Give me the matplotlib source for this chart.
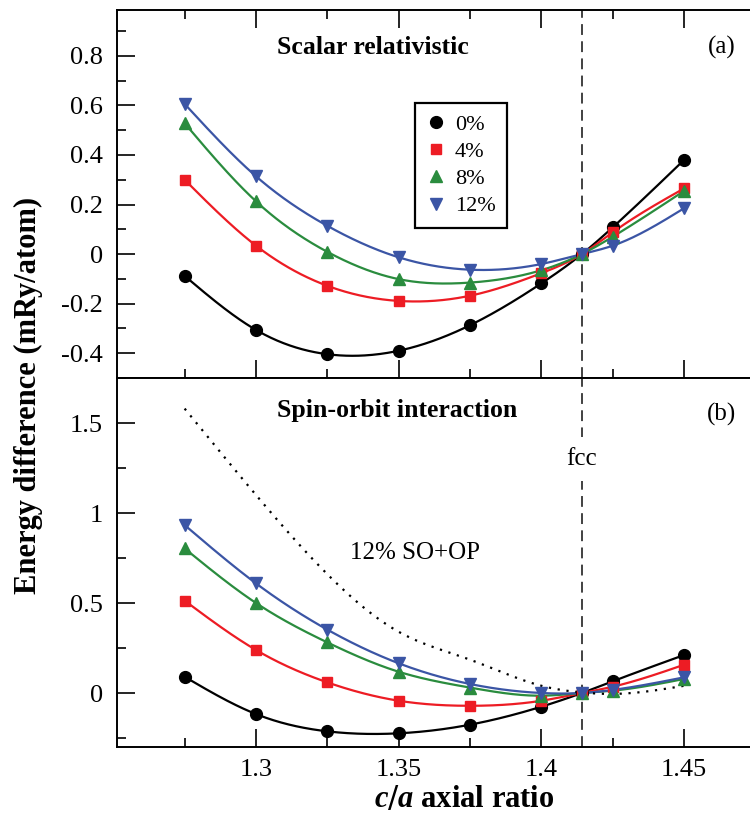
import numpy as np
import matplotlib
matplotlib.use('Agg')
import matplotlib.pyplot as plt
from matplotlib.ticker import MultipleLocator, FormatStrFormatter

plt.rcParams['font.family'] = ['Liberation Serif', 'DejaVu Serif']
plt.rcParams['mathtext.fontset'] = 'custom'
plt.rcParams['mathtext.it'] = 'Liberation Serif:italic:bold'
plt.rcParams['axes.unicode_minus'] = False

# c/a values (1.4142 = fcc)
ca = [1.275, 1.3, 1.325, 1.35, 1.375, 1.4, 1.4142, 1.425, 1.45]
labels = ['0%', '4%', '8%', '12%']

# (a) scalar relativistic, mRy/atom
sr_0 = [-0.088, -0.306, -0.404, -0.390, -0.287, -0.118, 0.0, 0.108, 0.380]
sr_4 = [0.300, 0.034, -0.128, -0.189, -0.168, -0.077, 0.0, 0.088, 0.265]
sr_8 = [0.528, 0.213, 0.009, -0.101, -0.115, -0.065, 0.0, 0.070, 0.255]
sr_12 = [0.606, 0.314, 0.114, -0.013, -0.063, -0.040, 0.0, 0.034, 0.185]

# (b) spin-orbit interaction
so_0 = [0.090, -0.117, -0.213, -0.224, -0.176, -0.076, 0.0, 0.065, 0.211]
so_4 = [0.513, 0.239, 0.059, -0.043, -0.071, -0.043, 0.0, 0.035, 0.157]
so_8 = [0.803, 0.500, 0.281, 0.118, 0.030, -0.015, 0.0, 0.013, 0.078]
so_12 = [0.933, 0.609, 0.352, 0.165, 0.050, 0.000, 0.0, 0.017, 0.087]
so_op_12 = [1.58, 1.10, 0.66, 0.34, 0.185, 0.04, 0.003, -0.005, 0.04]

colors = ['black', '#ed1c24', '#2a8c3e', '#3b55a5']
markers = ['o', 's', '^', 'v']
msizes = [8.5, 7, 8.5, 8.5]


def spline(x, y, xs):
    # natural cubic spline through the points
    x = np.asarray(x, float)
    y = np.asarray(y, float)
    n = len(x)
    h = np.diff(x)
    A = np.zeros((n, n))
    b = np.zeros(n)
    A[0, 0] = 1
    A[-1, -1] = 1
    for i in range(1, n - 1):
        A[i, i - 1] = h[i - 1]
        A[i, i] = 2 * (h[i - 1] + h[i])
        A[i, i + 1] = h[i]
        b[i] = 6 * ((y[i + 1] - y[i]) / h[i] - (y[i] - y[i - 1]) / h[i - 1])
    M = np.linalg.solve(A, b)
    idx = np.clip(np.searchsorted(x, xs) - 1, 0, n - 2)
    x0, x1 = x[idx], x[idx + 1]
    hh = x1 - x0
    t0, t1 = x1 - xs, xs - x0
    return (M[idx] * t0 ** 3 / (6 * hh) + M[idx + 1] * t1 ** 3 / (6 * hh)
            + (y[idx] / hh - M[idx] * hh / 6) * t0
            + (y[idx + 1] / hh - M[idx + 1] * hh / 6) * t1)


xs = np.linspace(ca[0], ca[-1], 400)

fig = plt.figure(figsize=(7.5, 8.27), dpi=100)
ax1 = fig.add_axes([117 / 750, 1 - 378 / 827, 649 / 750, 368 / 827])
ax2 = fig.add_axes([117 / 750, 1 - 747 / 827, 649 / 750, 369 / 827])

for ax, series in ((ax1, [sr_0, sr_4, sr_8, sr_12]), (ax2, [so_0, so_4, so_8, so_12])):
    for ys, c, m, ms, lab in zip(series, colors, markers, msizes, labels):
        ax.plot(xs, spline(ca, ys, xs), color=c, lw=1.6, zorder=3)
        ax.plot(ca, ys, linestyle='none', marker=m, ms=ms, color=c, zorder=4, label=lab)
    ax.axvline(1.4142, color='#333333', lw=1.3, linestyle=(0, (6, 3.5)), zorder=2)
    ax.set_xlim(1.2513, 1.4787)
    ax.xaxis.set_major_locator(MultipleLocator(0.05))
    ax.xaxis.set_minor_locator(MultipleLocator(0.025))
    ax.tick_params(which='both', direction='in', labelsize=19, width=1.2)
    ax.tick_params(which='major', length=13)
    ax.tick_params(which='minor', length=6.5)
    ax.tick_params(axis='y', which='both', pad=10)
    ax.yaxis.set_major_formatter(FormatStrFormatter('%g'))
    for s in ax.spines.values():
        s.set_linewidth(1.4)
    ax.spines['right'].set_visible(False)

ax2.plot(xs, spline(ca, so_op_12, xs), color='black', lw=1.6,
         linestyle=(0, (1, 3)), zorder=3)

ax1.set_ylim(-0.5, 0.985)
ax1.yaxis.set_major_locator(MultipleLocator(0.2))
ax1.yaxis.set_minor_locator(MultipleLocator(0.1))
ax1.tick_params(axis='x', which='both', top=True, bottom=True, labelbottom=False)

ax2.set_ylim(-0.3, 1.75)
ax2.yaxis.set_major_locator(MultipleLocator(0.5))
ax2.yaxis.set_minor_locator(MultipleLocator(0.25))
ax2.tick_params(axis='x', which='both', top=False, bottom=True, pad=8.5)
ax2.xaxis.set_major_formatter(FormatStrFormatter('%g'))

leg = ax1.legend(loc='upper left', bbox_to_anchor=(0.459, 0.747), borderaxespad=0,
                 fontsize=16, frameon=True, fancybox=False, edgecolor='black',
                 handlelength=0.9, handletextpad=0.4, borderpad=0.5,
                 labelspacing=0.3)
leg.get_frame().set_linewidth(1.6)
leg.get_frame().set_alpha(1)

ax1.text(0.2465, 0.897, 'Scalar relativistic', transform=ax1.transAxes,
         fontsize=18.5, fontweight='bold', ha='left', va='center')
ax1.text(0.932, 0.899, '(a)', transform=ax1.transAxes, fontsize=18,
         ha='center', va='center')
ax2.text(0.2465, 0.913, 'Spin-orbit interaction', transform=ax2.transAxes,
         fontsize=18.5, fontweight='bold', ha='left', va='center')
ax2.text(0.932, 0.9, '(b)', transform=ax2.transAxes, fontsize=18,
         ha='center', va='center')
ax2.text(1.4142, 1.30, 'fcc', fontsize=18, ha='center', va='center', zorder=5,
         bbox=dict(facecolor='white', edgecolor='none', pad=8))
ax2.text(1.3557, 0.78, '12% SO+OP', fontsize=18, ha='center', va='center')

fig.text(28 / 750, 1 - 395 / 827, 'Energy difference (mRy/atom)', rotation=90,
         fontsize=22, fontweight='bold', ha='center', va='center')
fig.text(464 / 750, 1 - 800 / 827, r'$\mathit{c/a}$ axial ratio', fontsize=22,
         fontweight='bold', ha='center', va='center')

plt.savefig('out.png', dpi=100)
